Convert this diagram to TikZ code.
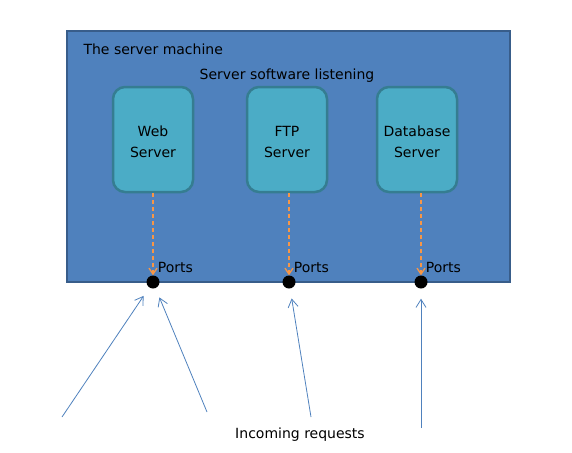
\documentclass[tikz,border=0pt]{standalone}
\usepackage{fontspec}
\setmainfont{DejaVu Sans}
\usepackage{tikz}
\usetikzlibrary{positioning,calc,arrows.meta}

\definecolor{machinefill}{HTML}{4F81BD}
\definecolor{machineline}{HTML}{385D8A}
\definecolor{serverfill}{HTML}{4BACC6}
\definecolor{serverline}{HTML}{357D91}
\definecolor{listenline}{HTML}{F79646}
\definecolor{requestline}{HTML}{4F81BD}

\tikzset{
	serverbox/.style={draw=serverline, fill=serverfill, line width=2.5pt, rounded corners=12pt,
		minimum width=80pt, minimum height=105pt},
	servertext/.style={inner sep=0pt, align=center, font=\fontsize{14}{21}\selectfont},
	portdot/.style={circle, fill=black, minimum size=13pt, inner sep=0pt},
	listenarrow/.style={draw=listenline, dash pattern=on 4pt off 3pt, line width=1.3pt, -{Straight Barb[length=6pt,width=8pt]}},
	requestarrow/.style={draw=requestline, line width=0.8pt, -{Straight Barb[length=8pt,width=10pt]}, shorten >=10pt},
	portlabel/.style={inner sep=0pt, font=\fontsize{14}{16}\selectfont}
}

\begin{document}
\begin{tikzpicture}[x=1pt, y=-1pt]
	\useasboundingbox (0,0) rectangle (572,452);
	% the machine
	\draw[machineline, fill=machinefill, line width=2pt] (67,31) rectangle (510,282);
	\node[anchor=west, font=\fontsize{14}{16}\selectfont] (title) at (80,49) {The server machine};
	\node[font=\fontsize{14}{16}\selectfont] (listening) at (287,76) {Server software listening};

	% servers
	\node[serverbox] (web) at (153,139.5) {};
	\node[serverbox] (ftp) at (287,139.5) {};
	\node[serverbox] (db) at (417,139.5) {};
	\node[servertext] (webtext) at ($(web)+(0,2)$) {Web\\Server};
	\node[servertext] (ftptext) at ($(ftp)+(0,2)$) {FTP\\Server};
	\node[servertext] (dbtext) at ($(db)+(0,2)$) {Database\\Server};

	% ports
	\node[portdot] (pweb) at (153,282) {};
	\node[portdot] (pftp) at (289,282) {};
	\node[portdot] (pdb) at (421,282) {};
	\foreach \p in {pweb,pftp,pdb}
		\node[portlabel, above right=4pt and 0pt of \p] (\p label) {Ports};

	\draw[listenarrow] (web.south) -- (pweb);
	\draw[listenarrow] (ftp.south -| pftp) -- (pftp);
	\draw[listenarrow] (db.south -| pdb) -- (pdb);

	% requests from outside
	\coordinate (r1) at (62,417);
	\coordinate (r2) at (207,412);
	\coordinate (r3) at (311,417);
	\coordinate (r4) at (421,428);
	\draw[requestarrow] (r1) -- (pweb);
	\draw[requestarrow] (r2) -- (pweb);
	\draw[requestarrow] (r3) -- (pftp);
	\draw[requestarrow] (r4) -- (pdb);
	\node[font=\fontsize{14}{16}\selectfont] (incoming) at (300,435) {Incoming requests};
\end{tikzpicture}
\end{document}
